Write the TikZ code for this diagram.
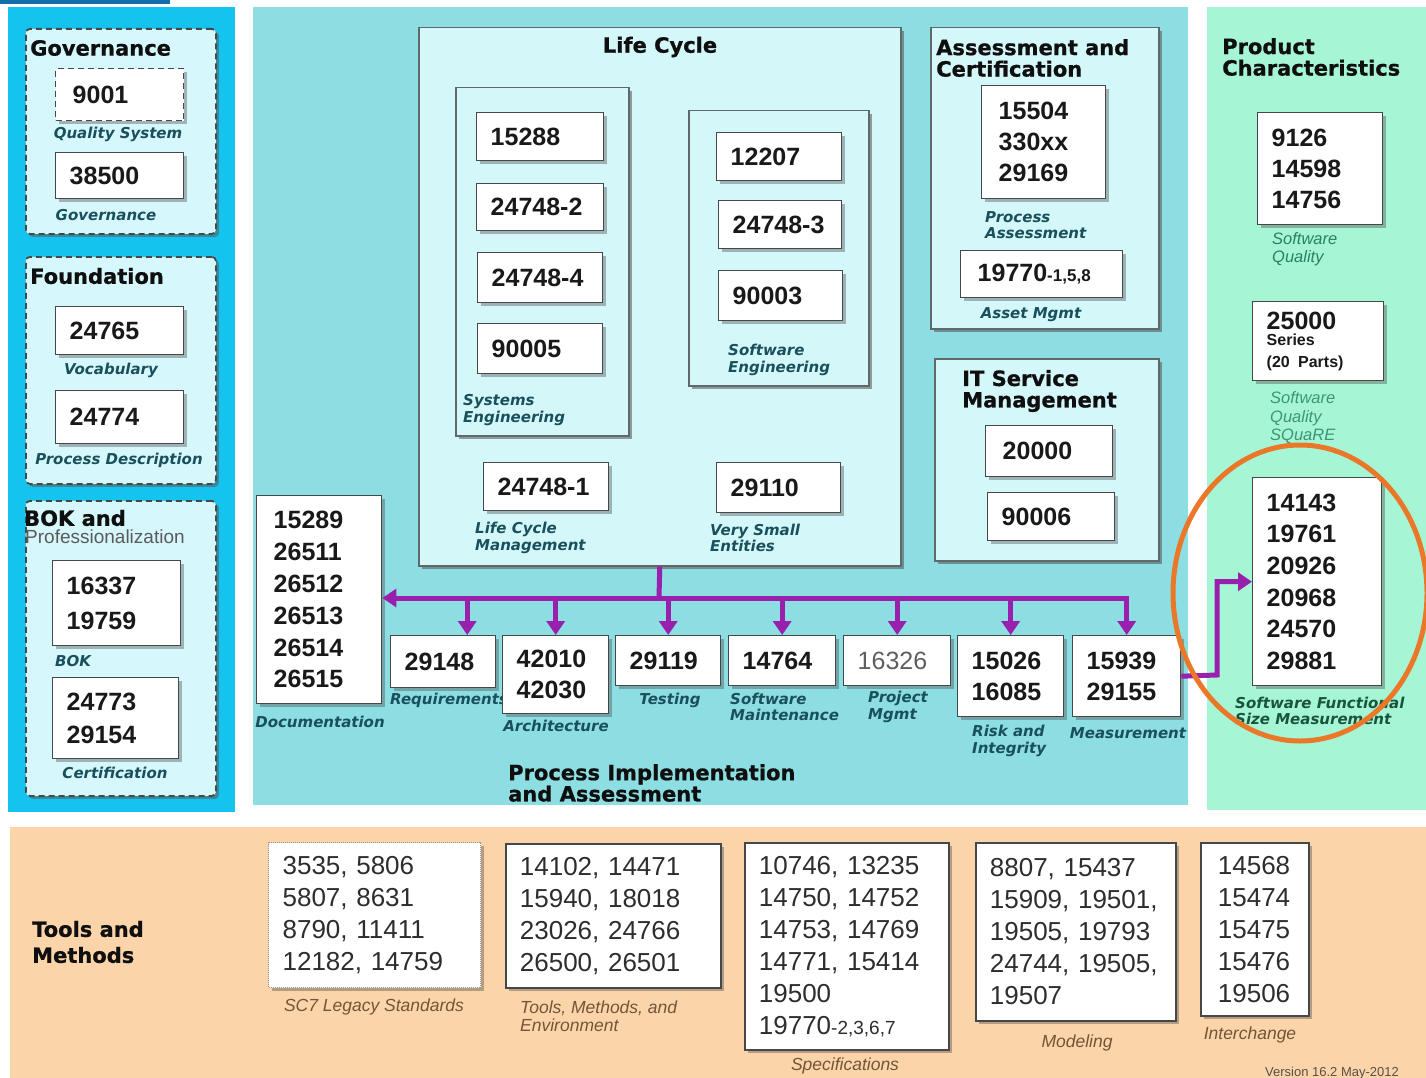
\documentclass[tikz,border=0pt]{standalone}
\usepackage{fontspec}
\setmainfont{Liberation Sans}
\newfontfamily\djv{DejaVu Sans}
\newfontfamily\heavy{DejaVu Sans}[FakeBold=0.8]
\usetikzlibrary{arrows.meta,shadows,shapes.geometric}
\definecolor{cyanpanel}{RGB}{20,196,238}
\definecolor{dcfill}{RGB}{214,248,252}
\definecolor{tealpanel}{RGB}{140,222,226}
\definecolor{lcfill}{RGB}{212,247,250}
\definecolor{mint}{RGB}{166,246,214}
\definecolor{peach}{RGB}{252,212,170}
\definecolor{purp}{RGB}{152,32,172}
\definecolor{orng}{RGB}{234,120,40}
\definecolor{labteal}{RGB}{25,80,92}
\definecolor{labgreen}{RGB}{40,130,95}
\definecolor{labdkgreen}{RGB}{25,85,60}
\definecolor{labbrown}{RGB}{115,85,55}
\definecolor{numtext}{RGB}{25,25,25}
\definecolor{boxgray}{RGB}{70,72,72}
\definecolor{contgray}{RGB}{95,105,108}
\definecolor{topbar}{RGB}{20,110,170}
\tikzset{
  nb/.style={draw=boxgray, line width=1.4pt, fill=white, inner xsep=14pt, inner ysep=0pt,
    align=left, text=numtext,
    drop shadow={opacity=0.4, shadow xshift=3pt, shadow yshift=-3pt, fill=black!70},
    font={\fontsize{25}{31.5}\selectfont\bfseries}},
  bb/.style={font={\fontsize{26}{32}\selectfont}, text={rgb,255:red,45;green,45;blue,45}},
  cont/.style={draw=contgray, line width=1.5pt, fill=lcfill,
    drop shadow={opacity=0.3, shadow xshift=3pt, shadow yshift=-3pt, fill=black!60}},
  dcont/.style={draw=boxgray, line width=1.8pt, dash pattern=on 6pt off 4pt, fill=dcfill,
    rounded corners=4pt, drop shadow={opacity=0.25, shadow xshift=3pt, shadow yshift=-3pt, fill=black!60}},
  ttl/.style={inner sep=0pt, align=left, text={rgb,255:red,15;green,15;blue,15},
    font={\heavy\bfseries\fontsize{21}{21.5}\selectfont}},
  lab/.style={inner sep=0pt, align=left, text=labteal,
    font={\djv\bfseries\itshape\fontsize{15}{16.5}\selectfont}},
  glab/.style={inner sep=0pt, align=left, text=labgreen,
    font={\itshape\fontsize{16.5}{18.5}\selectfont}},
  blab/.style={inner sep=0pt, align=left, text=labbrown,
    font={\itshape\fontsize{17.5}{18}\selectfont}},
  pline/.style={draw=purp, line width=5pt},
  parrow/.style={draw=purp, line width=5pt, -{Triangle[width=18pt,length=14pt]}},
}
\newcommand\stdbox[7][]{%
  \pgfmathsetmacro\bxw{#5-#3}%
  \pgfmathsetmacro\bxh{#6-#4}%
  \pgfmathsetmacro\bxt{max(#5-#3-28,1)}%
  \node[nb,#1,anchor=north west,minimum width=\bxw pt,minimum height=\bxh pt,text width=\bxt pt] (#2) at (#3,#4) {#7};}
\begin{document}
\begin{tikzpicture}[x=1pt,y=-1pt]
\useasboundingbox (0,0) rectangle (1426,1078);
\fill[white] (0,0) rectangle (1426,1078);
\fill[topbar] (0,0) rectangle (170,4);
% ---------- panels ----------
\fill[cyanpanel] (8,7) rectangle (235,812);
\fill[tealpanel] (253,7) rectangle (1188,805);
\fill[mint] (1207,7) rectangle (1426,810);
\fill[peach] (10,827) rectangle (1426,1078);
% ---------- left column ----------
\stdbox[dcont]{gov}{25}{28}{215}{233}{}
\node[ttl,anchor=west] (govt) at (30,48) {Governance};
\stdbox[dash pattern=on 6pt off 4pt]{b9001}{55}{68}{183}{120}{\hspace*{3pt}9001}
\node[lab] (l9001) at (118,134) {Quality System};
\stdbox{b38500}{55}{152}{183}{198}{38500}
\node[lab] (l38500) at (106,215) {Governance};
\stdbox[dcont]{fnd}{25}{256}{215}{483}{}
\node[ttl,anchor=west] (fndt) at (30,276) {Foundation};
\stdbox{b24765}{55}{306}{183}{354}{24765}
\node[lab] (l24765) at (111,370) {Vocabulary};
\stdbox{b24774}{55}{390}{183}{443}{24774}
\node[lab] (l24774) at (119,460) {Process Description};
\stdbox[dcont]{bok}{25}{500}{215}{795}{}
\node[ttl,anchor=west] (bokt) at (24,518) {BOK and};
\node[inner sep=0pt,anchor=west,text={rgb,255:red,90;green,90;blue,90},font={\fontsize{19}{19}\selectfont}] (bokt2) at (25,537) {Professionalization};
\stdbox[font={\fontsize{25}{35}\selectfont\bfseries}]{b16337}{52}{560}{180}{645}{16337\\19759}
\node[lab,anchor=west] (l16337) at (55,661) {BOK};
\stdbox[font={\fontsize{25}{32.5}\selectfont\bfseries}]{b24773}{52}{677}{178}{758}{24773\\29154}
\node[lab] (l24773) at (115,773) {Certification};
% ---------- life cycle ----------
\stdbox[cont]{lc}{418}{27}{900}{565}{}
\node[ttl] (lct) at (660,47) {Life Cycle};
\stdbox[cont]{syse}{455}{87}{628}{435}{}
\stdbox{b15288}{476}{112}{603}{160}{15288}
\stdbox{b247482}{476}{183}{603}{230}{24748-2}
\stdbox{b247484}{477}{252}{602}{302}{24748-4}
\stdbox{b90005}{477}{323}{602}{373}{90005}
\node[lab,anchor=west] (lsyse) at (463,410) {Systems\\Engineering};
\stdbox[cont]{swe}{688}{110}{868}{385}{}
\stdbox{b12207}{716}{132}{841}{180}{12207}
\stdbox{b247483}{718}{200}{841}{248}{24748-3}
\stdbox{b90003}{718}{270}{842}{320}{90003}
\node[lab,anchor=west] (lswe) at (728,360) {Software\\Engineering};
\stdbox{b247481}{483}{462}{608}{510}{24748-1}
\node[lab,anchor=west] (llcm) at (475,538) {Life Cycle\\Management};
\stdbox{b29110}{716}{462}{840}{512}{29110}
\node[lab,anchor=west] (lvse) at (710,538) {Very Small\\Entities};
% ---------- assessment ----------
\stdbox[cont]{asc}{930}{27}{1158}{328}{}
\node[ttl,anchor=west] (asct) at (936,58) {Assessment and\\Certification};
\stdbox[font={\fontsize{25}{31}\selectfont\bfseries}]{b15504}{981}{85}{1105}{198}{\hspace*{3pt}15504\\\hspace*{3pt}330xx\\\hspace*{3pt}29169}
\node[lab,anchor=west] (lpa) at (985,225) {Process\\Assessment};
\stdbox{b19770}{960}{250}{1122}{297}{\hspace*{3pt}19770{\fontsize{17}{17}\selectfont-1,5,8}}
\node[lab] (lam) at (1031,315) {Asset Mgmt};
\stdbox[cont]{itsm}{934}{358}{1158}{560}{}
\node[ttl,anchor=west] (itsmt) at (962,391) {IT Service\\Management};
\stdbox{b20000}{985}{425}{1112}{476}{\hspace*{3pt}20000}
\stdbox{b90006}{987}{492}{1114}{540}{90006}
% ---------- process implementation ----------
\stdbox[font={\fontsize{25}{31.8}\selectfont\bfseries}]{b15289}{256}{495}{381}{703}{\hspace*{3pt}15289\\\hspace*{3pt}26511\\\hspace*{3pt}26512\\\hspace*{3pt}26513\\\hspace*{3pt}26514\\\hspace*{3pt}26515}
\node[lab] (ldoc) at (320,722) {Documentation};
\stdbox{b29148}{390}{635}{495}{687}{29148}
\node[lab,anchor=west] (lreq) at (390,700) {Requirements};
\stdbox[font={\fontsize{25}{31}\selectfont\bfseries}]{b42010}{502}{635}{608}{713}{42010\\42030}
\node[lab] (larch) at (556,726) {Architecture};
\stdbox{b29119}{615}{635}{720}{685}{29119}
\node[lab] (ltest) at (670,700) {Testing};
\stdbox{b14764}{728}{635}{835}{685}{14764}
\node[lab,anchor=west] (lmaint) at (730,707) {Software\\Maintenance};
\stdbox[font={\fontsize{25}{31}\selectfont}, text={rgb,255:red,95;green,95;blue,95}]{b16326}{843}{635}{950}{685}{16326}
\node[lab,anchor=west] (lpm) at (868,707) {Project\\Mgmt};
\stdbox[font={\fontsize{25}{31}\selectfont\bfseries}]{b15026}{957}{635}{1063}{716}{15026\\16085}
\node[lab,anchor=west] (lrisk) at (972,741) {Risk and\\Integrity};
\stdbox[font={\fontsize{25}{31}\selectfont\bfseries}]{b15939}{1072}{635}{1180}{716}{15939\\29155}
\node[lab] (lmeas) at (1128,733) {Measurement};
\node[ttl,anchor=west,font={\heavy\bfseries\fontsize{21}{20}\selectfont}] (pia) at (508,783) {Process Implementation\\and Assessment};
% ---------- product characteristics ----------
\node[ttl,anchor=west] (pct) at (1222,57) {Product\\Characteristics};
\stdbox[font={\fontsize{25}{31}\selectfont\bfseries}]{b9126}{1257}{112}{1382}{224}{9126\\14598\\14756}
\node[glab,anchor=west] (lsq) at (1272,249) {Software\\Quality};
\stdbox[font={\fontsize{25}{22}\selectfont\bfseries}]{b25000}{1252}{301}{1383}{380}{25000\\[-2pt]{\fontsize{16}{17.5}\selectfont Series\\\mbox{(20 Parts)}}}
\node[glab,anchor=west,text={rgb,255:red,60;green,150;blue,115}] (lsquare) at (1270,418) {Software\\Quality\\SQuaRE};
\stdbox[font={\fontsize{25}{31.6}\selectfont\bfseries}]{b14143}{1252}{477}{1381}{685}{14143\\19761\\20926\\20968\\24570\\29881}
\node[lab,anchor=west,text=labdkgreen] (lfsm) at (1235,711) {Software Functional\\Size Measurement};
% ---------- tools and methods ----------
\node[ttl,anchor=west,font={\heavy\bfseries\fontsize{21}{26}\selectfont}] (tmt) at (32,942) {Tools and\\Methods};
\stdbox[bb,draw={rgb,255:red,150;green,150;blue,150},dash pattern=on 1pt off 1pt,line width=1.2pt]{bsc7}{268}{842}{480}{987}{3535, 5806\\5807, 8631\\8790, 11411\\12182, 14759}
\node[blab] (lsc7) at (374,1007) {SC7 Legacy Standards};
\stdbox[bb,line width=1.8pt]{btools}{505}{843}{720}{987}{14102, 14471\\15940, 18018\\23026, 24766\\26500, 26501}
\node[blab,anchor=west] (ltools) at (520,1016) {Tools, Methods, and\\Environment};
\stdbox[bb,line width=1.8pt]{bspec}{744}{842}{948}{1049}{10746, 13235\\14750, 14752\\14753, 14769\\14771, 15414\\19500\\19770{\fontsize{19}{19}\selectfont-2,3,6,7}}
\node[blab] (lspec) at (845,1066) {Specifications};
\stdbox[bb,line width=1.8pt]{bmod}{975}{842}{1175}{1020}{8807, 15437\\15909, 19501,\\19505, 19793\\24744, 19505,\\19507}
\node[blab] (lmod) at (1077,1043) {Modeling};
\stdbox[bb,line width=1.8pt]{binter}{1200}{842}{1308}{1015}{\hspace*{3pt}14568\\\hspace*{3pt}15474\\\hspace*{3pt}15475\\\hspace*{3pt}15476\\\hspace*{3pt}19506}
\node[blab] (linter) at (1250,1035) {Interchange};
\node[inner sep=0pt,anchor=west,text={rgb,255:red,90;green,80;blue,70},font={\fontsize{13}{13}\selectfont}] (ver) at (1265,1073) {Version 16.2 May-2012};
% ---------- connectors ----------
\coordinate (bus) at (659,598);
\coordinate (a29148) at ([xshift=24pt]b29148.north);
\coordinate (bend) at (1217,675);
\draw[pline] (lc.south) -- (bus);
\draw[parrow] (bus) -- (b15289.east |- bus);
\draw[parrow] (bus) -- (b15939.north |- bus) -- (b15939.north);
\draw[parrow] (a29148 |- bus) -- (a29148);
\draw[parrow] (b42010.north |- bus) -- (b42010.north);
\draw[parrow] (b29119.north |- bus) -- (b29119.north);
\draw[parrow] (b14764.north |- bus) -- (b14764.north);
\draw[parrow] (b16326.north |- bus) -- (b16326.north);
\draw[parrow] (b15026.north |- bus) -- (b15026.north);
\draw[parrow] (b15939.east) -- (bend) |- (b14143.west);
% ---------- highlight ----------
\node[draw=orng, line width=5pt, ellipse, minimum width=254pt, minimum height=296pt, inner sep=0pt] (hl) at (1300,593) {};
\end{tikzpicture}
\end{document}
